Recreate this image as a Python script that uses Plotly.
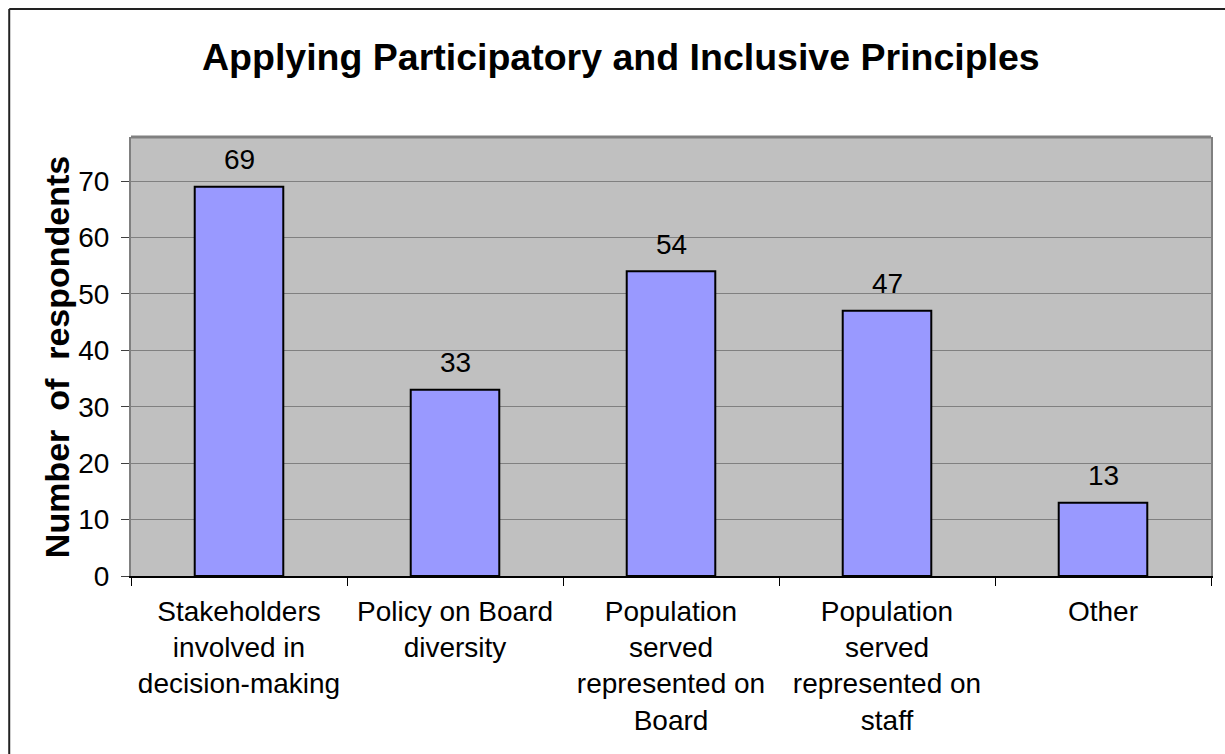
import plotly.graph_objects as go

# Survey responses per principle
categories = [
    "Stakeholders<br>involved in<br>decision-making",
    "Policy on Board<br>diversity",
    "Population<br>served<br>represented on<br>Board",
    "Population<br>served<br>represented on<br>staff",
    "Other",
]
respondents = [69, 33, 54, 47, 13]
y_ticks = [0, 10, 20, 30, 40, 50, 60, 70]

W, H = 1225, 754
L, R, T, B = 131, 12, 137, 178
pw, ph = W - L - R, H - T - B

def px_x(x):
    return (x - L) / pw

def px_y(y):
    return (H - B - y) / ph

font = "Arial, 'Liberation Sans', sans-serif"

fig = go.Figure(
    go.Bar(
        x=categories,
        y=respondents,
        marker=dict(color="#9999FF", line=dict(color="black", width=2)),
    )
)

# value labels above each bar
value_labels = [
    dict(
        x=c, y=v, xref="x", yref="y",
        text=str(v), showarrow=False,
        xanchor="center", yanchor="middle", yshift=27,
        font=dict(size=28, family=font, color="black"),
    )
    for c, v in zip(categories, respondents)
]

fig.update_layout(
    width=W,
    height=H,
    margin=dict(l=L, r=R, t=T, b=B),
    paper_bgcolor="white",
    plot_bgcolor="#C0C0C0",
    bargap=0.59,
    showlegend=False,
    font=dict(family=font, color="black"),
    xaxis=dict(
        type="category",
        showgrid=False,
        tickson="boundaries",
        ticks="outside",
        ticklen=8,
        tickwidth=1,
        tickcolor="black",
        showline=True,
        linecolor="black",
        linewidth=2,
        tickfont=dict(size=28, family=font),
        ticklabelstandoff=9,
    ),
    yaxis=dict(
        range=[0, 77.8],
        tickvals=y_ticks,
        ticks="outside",
        ticklen=8,
        tickcolor="#404040",
        showgrid=True,
        gridcolor="#808080",
        gridwidth=1,
        zeroline=False,
        showline=True,
        linecolor="#808080",
        linewidth=2,
        mirror=True,
        tickfont=dict(size=28, family=font),
        ticklabelstandoff=6,
    ),
    annotations=value_labels + [
        dict(
            text="<b>Applying Participatory and Inclusive Principles</b>",
            xref="paper", yref="paper",
            x=px_x(622), y=px_y(57),
            xanchor="center", yanchor="middle",
            showarrow=False,
            font=dict(size=37.5, family=font, color="black"),
        ),
        dict(
            text="<b>Number&nbsp; of&nbsp; respondents</b>",
            xref="paper", yref="paper",
            x=px_x(57), y=px_y(357),
            xanchor="center", yanchor="middle",
            textangle=-90,
            showarrow=False,
            font=dict(size=34, family=font, color="black"),
        ),
    ],
    shapes=[
        # plot area top edge
        dict(type="line", xref="paper", yref="paper", x0=0, x1=1, y0=1, y1=1,
             line=dict(color="#808080", width=3)),
        # chart frame (top and left edges)
        dict(type="line", xref="paper", yref="paper",
             x0=px_x(9), x1=px_x(W + 5), y0=px_y(9), y1=px_y(9),
             line=dict(color="#222222", width=2)),
        dict(type="line", xref="paper", yref="paper",
             x0=px_x(9), x1=px_x(9), y0=px_y(9), y1=px_y(H + 5),
             line=dict(color="#222222", width=2)),
    ],
)

fig.write_html("out.html")
